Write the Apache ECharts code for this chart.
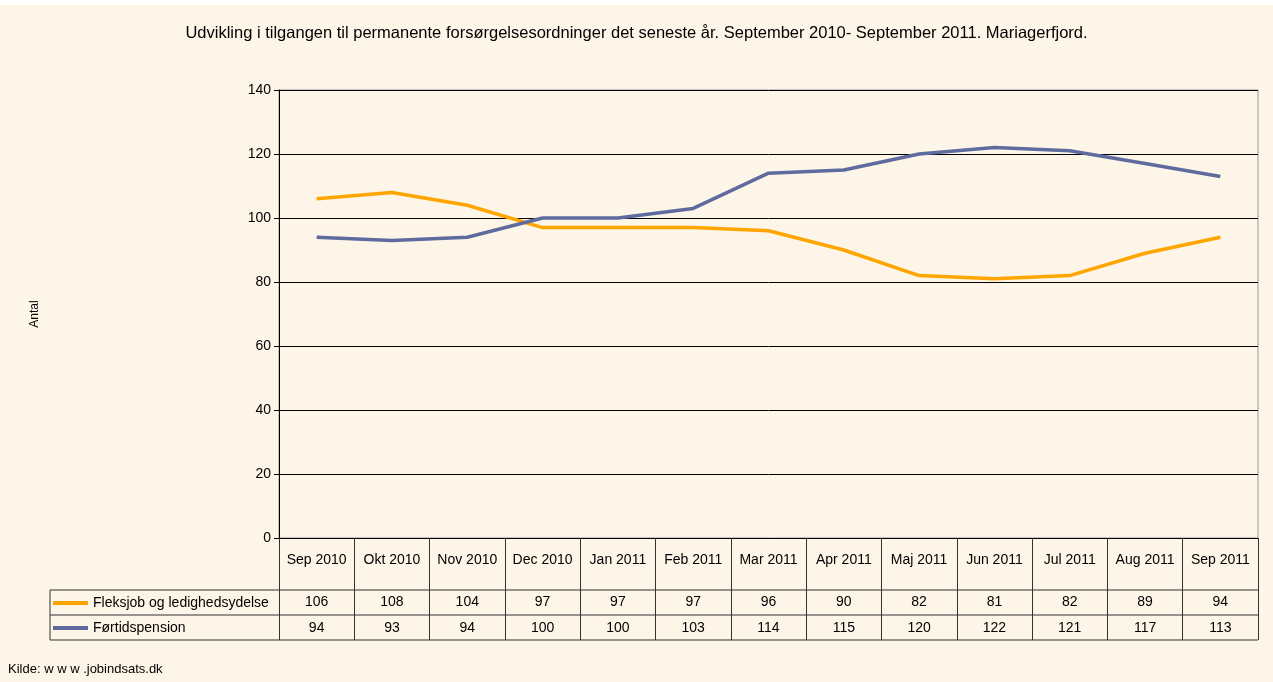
<!DOCTYPE html>
<html><head><meta charset="utf-8">
<script src="https://cdn.jsdelivr.net/npm/echarts@6/dist/echarts.min.js"></script>
<style>html,body{margin:0;padding:0;background:#fff}#c{width:1273px;height:682px}</style>
</head><body><div id="c"></div>
<script>
const categories = ['Sep 2010','Okt 2010','Nov 2010','Dec 2010','Jan 2011','Feb 2011','Mar 2011','Apr 2011','Maj 2011','Jun 2011','Jul 2011','Aug 2011','Sep 2011'];
const fleksjob = [106,108,104,97,97,97,96,90,82,81,82,89,94];
const fortid = [94,93,94,100,100,103,114,115,120,122,121,117,113];
const seriesNames = ['Fleksjob og ledighedsydelse','Førtidspension'];
const yTicks = {min:0,max:140,interval:20};

const FONT = 'Liberation Sans, Arial, sans-serif';
const chart = echarts.init(document.getElementById('c'));
const L = 279, R = 1258;
function hline(y, x1){return {type:'line',shape:{x1:x1,y1:y,x2:R,y2:y},style:{stroke:'#333',lineWidth:1}};}
chart.setOption({
  backgroundColor:'#FDF5E7',
  animation:false,
  title:{text:'Udvikling i tilgangen til permanente forsørgelsesordninger det seneste år. September 2010- September 2011. Mariagerfjord.',
    left:'center',top:25,padding:0,textStyle:{fontFamily:FONT,fontSize:16.5,fontWeight:'normal',color:'#000'}},
  grid:{left:L,right:1273-R,top:90,bottom:682-538,show:true,borderColor:'#999',borderWidth:1,backgroundColor:'transparent'},
  legend:{orient:'vertical',left:53,top:596,padding:0,icon:'rect',itemWidth:35,itemHeight:4,itemGap:11,
    textStyle:{fontFamily:FONT,fontSize:14,lineHeight:14,color:'#000'},data:seriesNames},
  xAxis:[
    {type:'category',data:categories,boundaryGap:true,
     axisLine:{lineStyle:{color:'#000',width:1}},
     axisTick:{show:true,interval:0,length:102,lineStyle:{color:'#333'}},
     axisLabel:{interval:0,margin:15,fontFamily:FONT,fontSize:14,color:'#000'}},
    {type:'category',data:fleksjob.map(String),position:'bottom',offset:0,
     axisLine:{show:false},axisTick:{show:false},
     axisLabel:{interval:0,margin:57,fontFamily:FONT,fontSize:14,color:'#000'}},
    {type:'category',data:fortid.map(String),position:'bottom',offset:0,
     axisLine:{show:false},axisTick:{show:false},
     axisLabel:{interval:0,margin:83,fontFamily:FONT,fontSize:14,color:'#000'}}
  ],
  yAxis:{type:'value',min:yTicks.min,max:yTicks.max,interval:yTicks.interval,
    name:'Antal',nameLocation:'middle',nameGap:238,nameRotate:90,
    nameTextStyle:{fontFamily:FONT,fontSize:12,color:'#000'},
    axisLine:{show:true,lineStyle:{color:'#000'}},
    axisTick:{show:true,length:5,lineStyle:{color:'#000'}},
    axisLabel:{margin:8,fontFamily:FONT,fontSize:14,color:'#000'},
    splitLine:{lineStyle:{color:'#000',width:1}}},
  series:[
    {name:seriesNames[0],type:'line',data:fleksjob,showSymbol:false,symbol:'none',
     color:'#FFA500',lineStyle:{width:3.5,color:'#FFA500'}},
    {name:seriesNames[1],type:'line',data:fortid,showSymbol:false,symbol:'none',
     color:'#5F6A9F',lineStyle:{width:3.5,color:'#5F6A9F'}}
  ],
  graphic:[
    {type:'rect',shape:{x:0,y:0,width:1273,height:5},style:{fill:'#fff'},z:-1},
    hline(590,50),hline(615,50),hline(640,50),
    {type:'line',shape:{x1:50,y1:590,x2:50,y2:640},style:{stroke:'#333',lineWidth:1}},
    {type:'text',left:8,top:663,style:{text:'Kilde: w w w .jobindsats.dk',font:'13px '+FONT,fill:'#000'}}
  ]
});
</script></body></html>
